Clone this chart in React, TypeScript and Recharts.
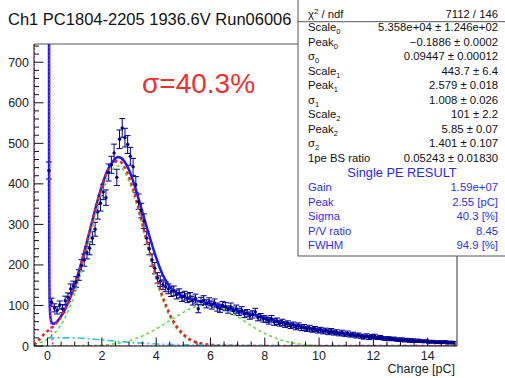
import React from "react";
import { ComposedChart, Line, Scatter, ErrorBar, XAxis, YAxis, ReferenceLine } from "recharts";

const FONT = "'Liberation Sans', Arial, Helvetica, sans-serif";

// Histogram: bin centres start at 0.05 with width 0.1 pC
const BIN_START = 0.05;
const BIN_WIDTH = 0.1;
const counts = [
  433, 108, 94, 88, 101, 92, 112, 120, 141, 148,
  158, 175, 199, 212, 230, 241, 266, 288, 331, 352,
  380, 366, 428, 447, 476, 416, 510, 538, 514, 497,
  468, 442, 398, 356, 334, 308, 266, 240, 212, 192,
  168, 160, 151, 146, 141, 134, 136, 127, 130, 121,
  124, 118, 121, 112, 117, 92, 110, 113, 104, 109,
  101, 106, 96, 93, 100, 97, 90, 96, 87, 91,
  84, 88, 79, 81, 75, 78, 84, 70, 72, 67,
  66, 62, 67, 59, 61, 56, 58, 53, 55, 50,
  52, 47, 50, 45, 46, 42, 44, 40, 42, 38,
  40, 36, 38, 34, 37, 33, 34, 30, 33, 29,
  31, 27, 29, 25, 27, 24, 22, 25, 21, 23,
  24, 20, 21, 19, 18, 19, 17, 18, 16, 15,
  16, 14, 15, 13, 14, 12, 13, 12, 11, 12,
  10, 11, 10, 9, 10, 9, 10, 8, 9, 8,
];
const countErrors = [
  21, 10, 10, 9, 10, 10, 11, 11, 12, 12,
  13, 13, 14, 15, 15, 16, 16, 17, 18, 19,
  19, 19, 21, 21, 22, 20, 23, 23, 23, 22,
  22, 21, 20, 19, 18, 18, 16, 15, 15, 14,
  13, 13, 12, 12, 12, 12, 12, 11, 11, 11,
  11, 11, 11, 11, 11, 10, 10, 11, 10, 10,
  10, 10, 10, 10, 10, 10, 9, 10, 9, 10,
  9, 9, 9, 9, 9, 9, 9, 8, 8, 8,
  8, 8, 8, 8, 8, 7, 8, 7, 7, 7,
  7, 7, 7, 7, 7, 6, 7, 6, 6, 6,
  6, 6, 6, 6, 6, 6, 6, 5, 6, 5,
  6, 5, 5, 5, 5, 5, 5, 5, 5, 5,
  5, 4, 5, 4, 4, 4, 4, 4, 4, 4,
  4, 4, 4, 4, 4, 3, 4, 3, 3, 3,
  3, 3, 3, 3, 3, 3, 3, 3, 3, 3,
];

// Component curves sampled on a common grid
const fitX = [
  -0.5, -0.4, -0.3, -0.2, -0.1, 0, 0.1, 0.2, 0.3, 0.4, 0.5, 0.6, 0.7, 0.8, 0.9, 1.0,
  1.2, 1.4, 1.6, 1.8, 2.0, 2.2, 2.4, 2.6, 2.8, 3.0, 3.2, 3.4, 3.6, 3.8, 4.0, 4.2, 4.4, 4.6, 4.8, 5.0,
  5.25, 5.5, 5.75, 6.0,
  6.5, 7, 7.5, 8, 8.5, 9, 9.5, 10, 10.5, 11, 11.5, 12, 12.5, 13, 13.5, 14, 14.5, 15,
];
const onePeWithBs = [
  3, 9, 16, 24, 31, 37, 42, 48, 55, 63, 73, 84, 98, 113, 130, 149,
  194, 243, 295, 347, 393, 429, 450, 457, 445, 417, 377, 327, 274, 221, 172, 129, 94, 65, 44, 29,
  16, 9, 5, 3,
  1, 0.5, 0, 0, 0, 0, 0, 0, 0, 0, 0, 0, 0, 0, 0, 0, 0, 0,
];
const onePeGauss = [
  4, 6, 8, 10, 13, 17, 22, 28, 35, 43, 53, 64, 78, 93, 110, 129,
  174, 224, 277, 330, 377, 414, 436, 444, 433, 406, 367, 318, 265, 212, 164, 121, 87, 59, 39, 25,
  13, 6, 3, 1,
  0, 0, 0, 0, 0, 0, 0, 0, 0, 0, 0, 0, 0, 0, 0, 0, 0, 0,
];
const twoPeGauss = [
  0, 0, 0, 0, 0, 0, 0, 0, 0, 0, 0, 0, 0, 0, 0, 0.5,
  0.7, 1, 1, 1.5, 2, 3, 5, 7, 9, 13, 17, 22, 28, 35, 42, 50, 58, 67, 75, 83,
  92, 98, 101, 100,
  91, 72, 50, 31, 17, 8, 3, 1, 0.4, 0, 0, 0, 0, 0, 0, 0, 0, 0,
];

// Total fit (includes pedestal spike)
const totalX = [
  0.04, 0.055, 0.065, 0.08, 0.1, 0.13, 0.17, 0.22, 0.3, 0.4, 0.5, 0.6, 0.7, 0.8, 0.9, 1.0,
  1.2, 1.4, 1.6, 1.8, 2.0, 2.2, 2.4, 2.6, 2.8, 3.0, 3.2, 3.4, 3.6, 3.8, 4.0, 4.2, 4.4, 4.6, 4.8, 5.0,
  5.25, 5.5, 5.75, 6.0,
  6.5, 7, 7.5, 8, 8.5, 9, 9.5, 10, 10.5, 11, 11.5, 12, 12.5, 13, 13.5, 14, 14.5, 15,
];
const totalFit = [
  3000, 400, 170, 100, 74, 62, 56, 55, 57, 64, 74, 85, 99, 114, 131, 150,
  195, 244, 296, 348, 395, 432, 455, 466, 458, 434, 397, 352, 305, 260, 218, 182, 156, 139, 129, 122,
  116, 112, 108, 104,
  96, 87, 78, 69, 61, 53, 46, 40, 34, 29, 25, 21.5, 18.5, 16, 13.5, 11.5, 10, 8.5,
];

// Back-scatter component
const bsX = [0, 0.5, 1, 1.5, 2, 2.5, 3, 3.5, 4, 5, 6, 7, 8, 10, 12, 15];
const bsFit = [20, 20, 20, 18, 15, 12, 9, 7, 5, 3, 2, 1.5, 1, 0.5, 0.3, 0.1];

// Pedestal component
const pedX = [-0.5, -0.5, 0.06, 0.08, 0.11, 0.15, 0.19, 0.24, 0.3, 15.08];
const pedFit = [0, 3000, 3000, 160, 60, 22, 6, 1, 0, 0];

const xLabelTicks = [0, 2, 4, 6, 8, 10, 12, 14];
const yLabelTicks = [0, 100, 200, 300, 400, 500, 600, 700];

const statNames = ["Scale", "Peak", "σ", "Scale", "Peak", "σ", "Scale", "Peak", "σ", "1pe BS ratio"];
const statSubs = ["0", "0", "0", "1", "1", "1", "2", "2", "2", ""];
const statValues = [
  "5.358e+04 ± 1.246e+02",
  "−0.1886 ± 0.0002",
  "0.09447 ± 0.00012",
  "443.7 ± 6.4",
  "2.579 ± 0.018",
  "1.008 ± 0.026",
  "101 ± 2.2",
  "5.85 ± 0.07",
  "1.401 ± 0.107",
  "0.05243 ± 0.01830",
];
const resultNames = ["Gain", "Peak", "Sigma", "P/V ratio", "FWHM"];
const resultValues = ["1.59e+07", "2.55 [pC]", "40.3 [%]", "8.45", "94.9 [%]"];

const X_MIN = -0.5;
const X_MAX = 15.08;
const Y_MAX = 745;

const histData = counts.map((c, i) => ({
  x: +(BIN_START + i * BIN_WIDTH).toFixed(2),
  y: c,
  err: countErrors[i],
}));
const pair = (xs: number[], ys: number[]) => xs.map((x, i) => ({ x, y: ys[i] }));

const xMinor: number[] = [];
for (let v = 0; v <= 15.001; v += 0.5) xMinor.push(+v.toFixed(1));
const yMinor: number[] = [];
for (let v = 0; v <= 740; v += 20) yMinor.push(v);

function XTick(props: any) {
  const { x, y, payload } = props;
  const v = payload.value;
  const major = xLabelTicks.includes(v);
  return (
    <g>
      <line x1={x} x2={x} y1={y} y2={y - (major ? 8.5 : 4.5)} stroke="#111" strokeWidth={1} />
      {major && (
        <text x={x} y={y + 14} textAnchor="middle" fontSize={12.5} fontFamily={FONT} fill="#222">
          {v}
        </text>
      )}
    </g>
  );
}

function YTick(props: any) {
  const { x, y, payload } = props;
  const v = payload.value;
  const major = yLabelTicks.includes(v);
  return (
    <g>
      <line x1={x} x2={x + (major ? 9.5 : 5)} y1={y} y2={y} stroke="#111" strokeWidth={1} />
      {major && (
        <text x={x - 5} y={y + 4.5} textAnchor="end" fontSize={12.5} fontFamily={FONT} fill="#222">
          {v}
        </text>
      )}
    </g>
  );
}

const NAVY = "#000088";

export default function App() {
  const rowY = (k: number) => 31 + 14.55 * k;
  return (
    <div style={{ position: "absolute", left: 0, top: 0, width: 505, height: 378, background: "#fff" }}>
      <ComposedChart width={505} height={378} margin={{ top: 44, right: 48, bottom: 0, left: 0 }}>
        <XAxis
          dataKey="x"
          type="number"
          domain={[X_MIN, X_MAX]}
          allowDataOverflow
          ticks={xMinor}
          interval={0}
          tickSize={0}
          tickMargin={0}
          tickLine={false}
          tick={<XTick />}
          height={32}
          axisLine={{ stroke: "#111", strokeWidth: 1 }}
        />
        <YAxis
          type="number"
          domain={[0, Y_MAX]}
          allowDataOverflow
          ticks={yMinor}
          interval={0}
          tickSize={0}
          tickMargin={0}
          tickLine={false}
          tick={<YTick />}
          width={34}
          axisLine={{ stroke: "#111", strokeWidth: 1 }}
        />
        <ReferenceLine y={Y_MAX} stroke="#555" strokeWidth={1} />
        <ReferenceLine x={X_MAX} stroke="#777" strokeWidth={1.5} />
        <Scatter
          data={histData}
          dataKey="y"
          fill={NAVY}
          isAnimationActive={false}
          shape={(p: any) => <circle cx={p.cx} cy={p.cy} r={1.7} fill={NAVY} />}
        >
          <ErrorBar dataKey="err" direction="y" width={3} stroke={NAVY} strokeWidth={1} isAnimationActive={false} />
        </Scatter>
        <Line
          data={pair(totalX, totalFit)}
          dataKey="y"
          type="monotone"
          stroke="#1a1af0"
          strokeWidth={2.5}
          dot={false}
          activeDot={false}
          isAnimationActive={false}
        />
        <Line
          data={pair(fitX, twoPeGauss)}
          dataKey="y"
          type="monotone"
          stroke="#5fdc3c"
          strokeWidth={1.6}
          strokeDasharray="3 3"
          dot={false}
          activeDot={false}
          isAnimationActive={false}
        />
        <Line
          data={pair(fitX, onePeGauss)}
          dataKey="y"
          type="monotone"
          stroke="#5fdc3c"
          strokeWidth={1.6}
          strokeDasharray="3 3"
          dot={false}
          activeDot={false}
          isAnimationActive={false}
        />
        <Line
          data={pair(fitX, onePeWithBs)}
          dataKey="y"
          type="monotone"
          stroke="#f02020"
          strokeWidth={2.5}
          strokeDasharray="3 3"
          dot={false}
          activeDot={false}
          isAnimationActive={false}
        />
        <Line
          data={pair(bsX, bsFit)}
          dataKey="y"
          type="monotone"
          stroke="#33c8d0"
          strokeWidth={1.6}
          strokeDasharray="7 3 2 3"
          dot={false}
          activeDot={false}
          isAnimationActive={false}
        />
        <Line
          data={pair(pedX, pedFit)}
          dataKey="y"
          type="linear"
          stroke="#e020e0"
          strokeWidth={1.5}
          strokeDasharray="2 2"
          dot={false}
          activeDot={false}
          isAnimationActive={false}
        />
      </ComposedChart>
      <svg
        width={505}
        height={378}
        style={{ position: "absolute", left: 0, top: 0, pointerEvents: "none" }}
        fontFamily={FONT}
      >
        <text x={8} y={25} fontSize={16.5} fill="#111">
          Ch1 PC1804-2205 1936.6V Run06006
        </text>
        <text x={142} y={93} fontSize={28} fill="#f03030">
          σ=40.3%
        </text>
        <text x={455} y={373} fontSize={12.5} textAnchor="end" fill="#222">
          Charge [pC]
        </text>
        <rect x={298} y={-2} width={212} height={258} fill="#fff" stroke="#555" strokeWidth={1} />
        <line x1={298} x2={510} y1={21.7} y2={21.7} stroke="#555" strokeWidth={1} />
        <text x={308} y={18} fontSize={11.3} fill="#111">
          χ<tspan fontSize={8} dy={-4}>2</tspan>
          <tspan dy={4}> / ndf</tspan>
        </text>
        <text x={498} y={18} fontSize={11.3} fill="#111" textAnchor="end">
          7112 / 146
        </text>
        {statNames.map((n, k) => (
          <g key={"s" + k}>
            <text x={308} y={rowY(k)} fontSize={11.3} fill="#111">
              {n}
              {statSubs[k] && (
                <tspan fontSize={7.5} dy={3}>
                  {statSubs[k]}
                </tspan>
              )}
            </text>
            <text x={498} y={rowY(k)} fontSize={11.3} fill="#111" textAnchor="end">
              {statValues[k]}
            </text>
          </g>
        ))}
        <text x={402} y={rowY(10)} fontSize={12.8} fill="#2828f0" textAnchor="middle">
          Single PE RESULT
        </text>
        {resultNames.map((n, k) => (
          <g key={"r" + k}>
            <text x={308} y={rowY(11 + k)} fontSize={11.3} fill="#3030f8">
              {n}
            </text>
            <text x={498} y={rowY(11 + k)} fontSize={11.3} fill="#3030f8" textAnchor="end">
              {resultValues[k]}
            </text>
          </g>
        ))}
      </svg>
    </div>
  );
}
